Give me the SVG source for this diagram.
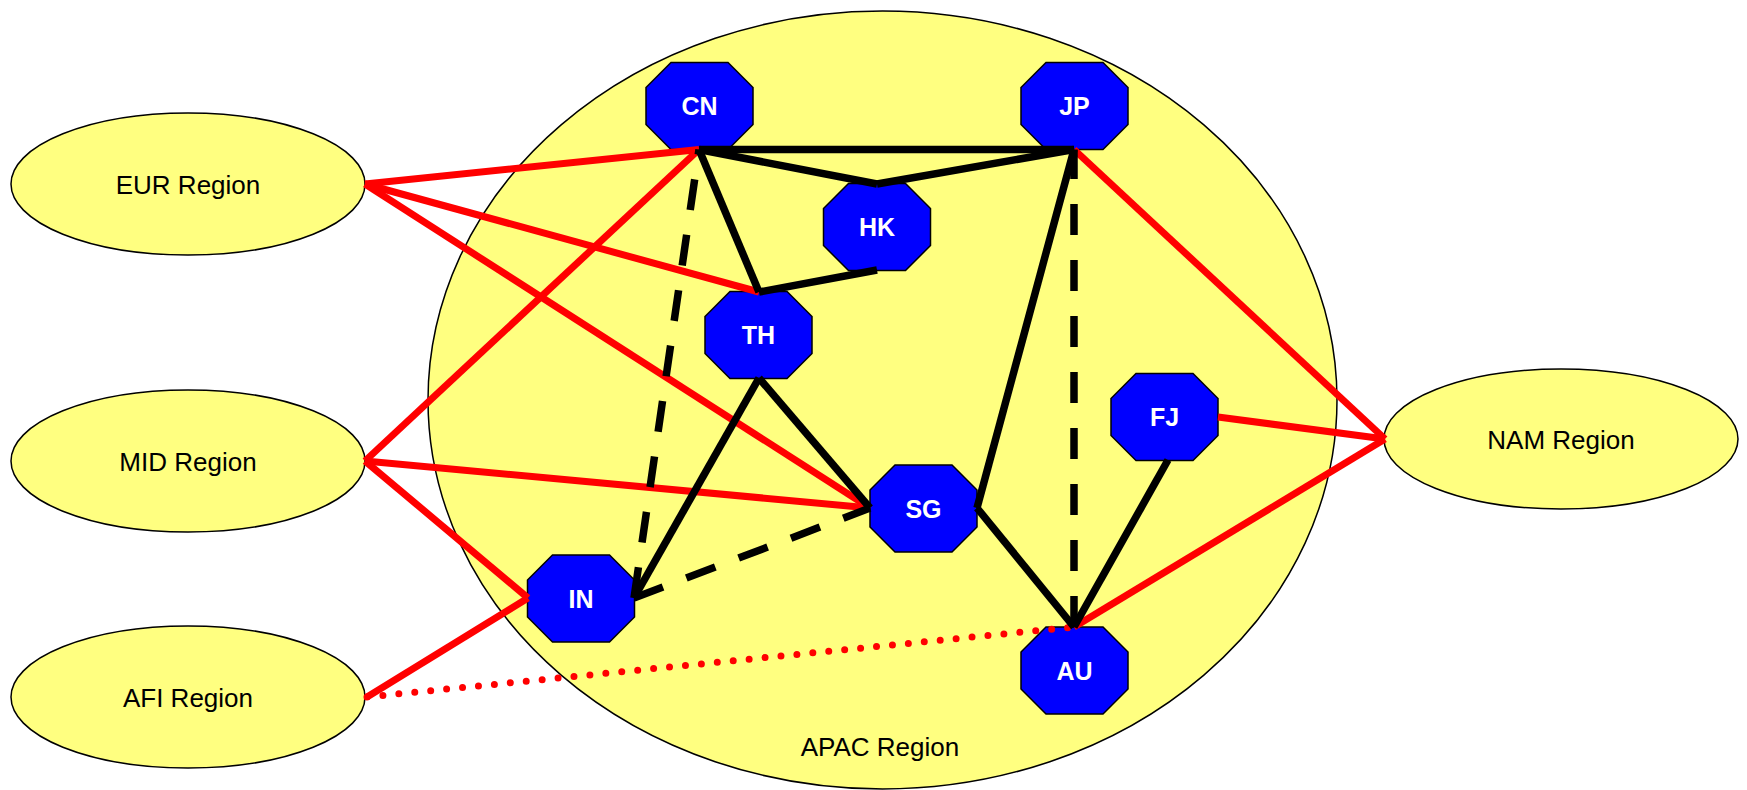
<svg xmlns="http://www.w3.org/2000/svg" xmlns:xlink="http://www.w3.org/1999/xlink" width="1747" height="790" viewBox="0 0 1747 790">
<style>
.region{fill:#FFFF80;stroke:#000;stroke-width:1.5}
.rlabel{font-family:"Liberation Sans",Arial,sans-serif;font-size:26px;fill:#000;text-anchor:middle}
.oct{fill:#0000FF;stroke:#000;stroke-width:1.5}
.nlabel{font-family:"Liberation Sans",Arial,sans-serif;font-size:25px;font-weight:bold;fill:#fff;text-anchor:middle}
.red{stroke:#FF0000;stroke-width:7;fill:none}
.blk{stroke:#000;stroke-width:7.5;fill:none}
.dash{stroke:#000;stroke-width:7.5;fill:none;stroke-dasharray:31 25}
.dot{stroke:#FF0000;stroke-width:7;fill:none;stroke-dasharray:0 16;stroke-linecap:round}
</style>
<defs>
<polygon id="octShape" class="oct" points="-28.5,-43.5 28.5,-43.5 53.5,-18.5 53.5,18.5 28.5,43.5 -28.5,43.5 -53.5,18.5 -53.5,-18.5"/>
</defs>
<rect width="1747" height="790" fill="#fff"/>
<g id="APAC">
<ellipse class="region" cx="882.5" cy="400" rx="454.5" ry="389"/>
<text class="rlabel" x="880" y="756">APAC Region</text>
</g>
<g id="EUR">
<ellipse class="region" cx="188" cy="184" rx="177" ry="71"/>
<text class="rlabel" x="188" y="194">EUR Region</text>
</g>
<g id="MID">
<ellipse class="region" cx="188" cy="461" rx="177" ry="71"/>
<text class="rlabel" x="188" y="471">MID Region</text>
</g>
<g id="AFI">
<ellipse class="region" cx="188" cy="697" rx="177" ry="71"/>
<text class="rlabel" x="188" y="707">AFI Region</text>
</g>
<g id="NAM">
<ellipse class="region" cx="1561" cy="439" rx="177" ry="70"/>
<text class="rlabel" x="1561" y="449">NAM Region</text>
</g>
<g id="CN"><use xlink:href="#octShape" x="699.5" y="106"/><text class="nlabel" x="699.5" y="115">CN</text></g>
<g id="JP"><use xlink:href="#octShape" x="1074.5" y="106"/><text class="nlabel" x="1074.5" y="115">JP</text></g>
<g id="HK"><use xlink:href="#octShape" x="877" y="227"/><text class="nlabel" x="877" y="236">HK</text></g>
<g id="TH"><use xlink:href="#octShape" x="758.5" y="335"/><text class="nlabel" x="758.5" y="344">TH</text></g>
<g id="SG"><use xlink:href="#octShape" x="923.5" y="508.5"/><text class="nlabel" x="923.5" y="517.5">SG</text></g>
<g id="IN"><use xlink:href="#octShape" x="581" y="598.5"/><text class="nlabel" x="581" y="607.5">IN</text></g>
<g id="FJ"><use xlink:href="#octShape" x="1164.5" y="417"/><text class="nlabel" x="1164.5" y="426">FJ</text></g>
<g id="AU"><use xlink:href="#octShape" x="1074.5" y="670.5"/><text class="nlabel" x="1074.5" y="679.5">AU</text></g>
<g id="connectors">
<line class="red" x1="365" y1="184" x2="699" y2="149.5"/>
<line class="red" x1="365" y1="184" x2="759" y2="292"/>
<line class="red" x1="365" y1="184" x2="870" y2="508"/>
<line class="red" x1="365" y1="461" x2="699" y2="149.5"/>
<line class="red" x1="365" y1="461" x2="870" y2="508"/>
<line class="red" x1="365" y1="461" x2="528" y2="598"/>
<line class="red" x1="367" y1="697" x2="528" y2="598"/>
<line class="dot" x1="367" y1="697" x2="1074" y2="627"/>
<line class="red" x1="1074" y1="149.5" x2="1385" y2="439"/>
<line class="red" x1="1218" y1="417" x2="1385" y2="439"/>
<line class="red" x1="1074" y1="627" x2="1385" y2="439"/>
<line class="blk" x1="699" y1="149.5" x2="1074" y2="149.5"/>
<line class="blk" x1="699" y1="149.5" x2="877" y2="184"/>
<line class="blk" x1="1074" y1="149.5" x2="877" y2="184"/>
<line class="blk" x1="699" y1="149.5" x2="759" y2="292"/>
<line class="blk" x1="877" y1="270" x2="759" y2="292"/>
<line class="blk" x1="759" y1="378" x2="634" y2="598"/>
<line class="blk" x1="759" y1="378" x2="870" y2="508"/>
<line class="blk" x1="1074" y1="149.5" x2="977" y2="508"/>
<line class="blk" x1="977" y1="508" x2="1074" y2="627"/>
<line class="blk" x1="1168" y1="460" x2="1074" y2="627"/>
<line class="dash" x1="634" y1="598" x2="699" y2="149.5"/>
<line class="dash" x1="634" y1="598" x2="870" y2="508"/>
<line class="dash" x1="1074" y1="627" x2="1074" y2="149.5"/>
</g>
</svg>
